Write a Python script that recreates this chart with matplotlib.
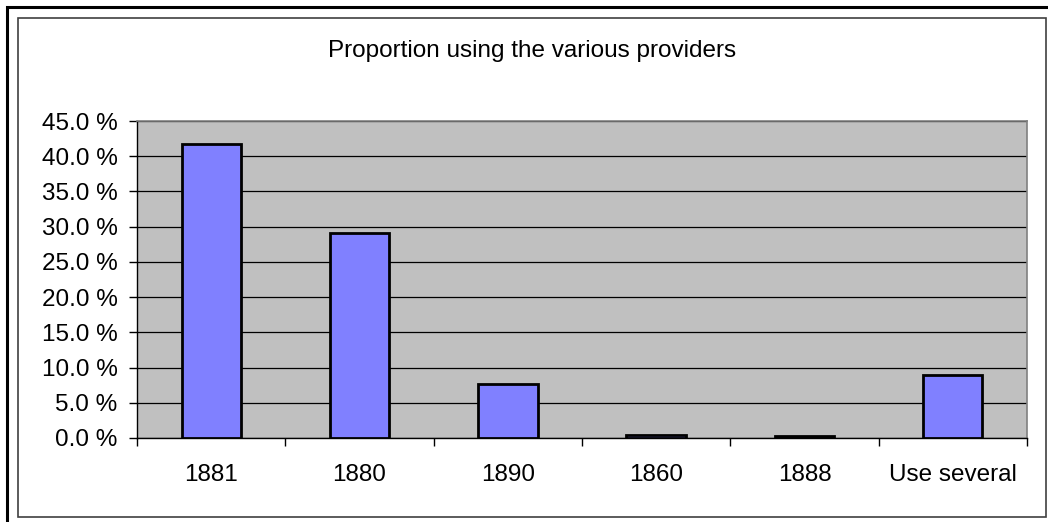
import matplotlib
matplotlib.use("Agg")
import matplotlib.pyplot as plt
from matplotlib.patches import Rectangle
from matplotlib.ticker import MultipleLocator, FuncFormatter
import numpy as np

plt.rcParams['font.family'] = ['Liberation Sans', 'DejaVu Sans']

categories = ["1881", "1880", "1890", "1860", "1888", "Use several"]
shares = [41.8, 29.1, 7.6, 0.45, 0.35, 8.9]
title = "Proportion using the various providers"

W, H = 1048, 522
fig = plt.figure(figsize=(W / 100, H / 100), dpi=100)
fig.patch.set_facecolor("white")

# outer frame (thick) and chart-area frame (thin)
fig.add_artist(Rectangle((6.5 / W, -0.05), 1.1, 1 - 6.5 / H + 0.05,
                         transform=fig.transFigure, fill=False,
                         edgecolor="black", linewidth=2.2))
fig.add_artist(Rectangle((17.5 / W, 1 - 516.5 / H), (1046 - 17.5) / W, (516.5 - 17.5) / H,
                         transform=fig.transFigure, fill=False,
                         edgecolor="#404040", linewidth=1.2))

left, right, top, bottom = 137, 1027, 121, 438
ax = fig.add_axes([left / W, 1 - bottom / H, (right - left) / W, (bottom - top) / H])
ax.set_facecolor("#C0C0C0")

x = np.arange(len(categories))
ax.bar(x, shares, width=0.4, color="#8080FF", edgecolor="black", linewidth=2.0, zorder=3)

ax.set_xlim(-0.5, len(categories) - 0.5)
ax.set_ylim(0, 45)
ax.yaxis.set_major_locator(MultipleLocator(5))
ax.yaxis.set_major_formatter(FuncFormatter(lambda v, p: f"{v:.1f} %"))
ax.grid(axis="y", color="black", linewidth=0.9, zorder=1)
ax.set_axisbelow(True)

fs = 17.5
# category labels centred, tick marks on category boundaries
ax.set_xticks(x)
ax.set_xticklabels(categories)
ax.tick_params(axis="x", which="major", length=0, pad=19, labelsize=fs)
ax.set_xticks(np.arange(len(categories) + 1) - 0.5, minor=True)
ax.tick_params(axis="x", which="minor", length=6, width=1, color="black", direction="out")
ax.tick_params(axis="y", length=5.5, width=1, color="black", direction="out", pad=8.5, labelsize=fs)

for s in ("top", "right"):
    ax.spines[s].set_color("#808080")
    ax.spines[s].set_linewidth(1.2)
for s in ("left", "bottom"):
    ax.spines[s].set_color("black")
    ax.spines[s].set_linewidth(1.0)

fig.text(532 / W, 1 - 57 / H, title, ha="center", va="baseline", fontsize=fs)

fig.savefig("out.png", dpi=100)
